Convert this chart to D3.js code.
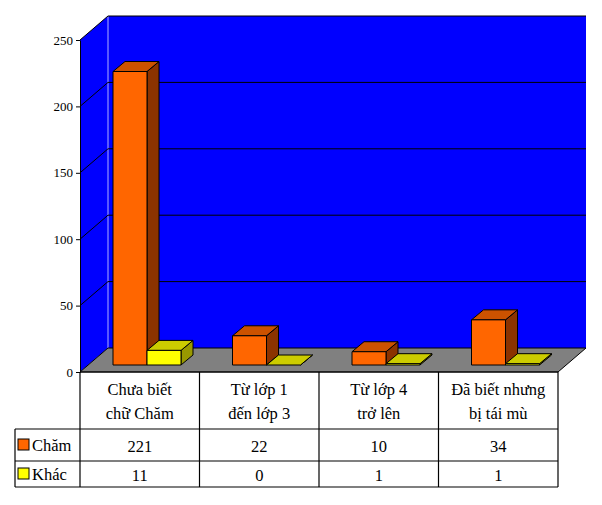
<!DOCTYPE html>
<html><head><meta charset="utf-8">
<script src="https://cdn.jsdelivr.net/npm/d3@7"></script>
<style>body{margin:0;background:#fff}svg{display:block}</style>
</head><body>
<script>
const categories = [["Chưa biết","chữ Chăm"],["Từ lớp 1","đến lớp 3"],["Từ lớp 4","trở lên"],["Đã biết nhưng","bị tái mù"]];
const seriesNames = ["Chăm","Khác"];
const cham = [221,22,10,34];
const khac = [11,0,1,1];
const yTicks = [0,50,100,150,200,250];
const series = [cham, khac];
const colors = [{front:"#FF6600",top:"#CC5200",side:"#8B3300"},{front:"#FFFF00",top:"#CCCC00",side:"#999900"}];

const W=602,H=505;
const svg=d3.select("body").append("svg").attr("width",W).attr("height",H);
const x0=80,x1=558,yBase=372,DX=28,DY=-24;
const y=d3.scaleLinear().domain([0,250]).range([yBase,40]);
const xb=d3.scaleBand().domain(d3.range(4)).range([x0,x1]);
const font="Liberation Serif, Times New Roman, serif";

// back wall
svg.append("rect").attr("x",x0+DX).attr("y",y(250)+DY).attr("width",x1-x0).attr("height",yBase-y(250)).attr("fill","#0000FF");
// left wall
svg.append("path").attr("d",`M${x0},${yBase}L${x0},${y(250)}L${x0+DX},${y(250)+DY}L${x0+DX},${yBase+DY}Z`).attr("fill","#0000FF");
svg.append("line").attr("x1",x0+DX).attr("x2",x0+DX).attr("y1",y(250)+DY).attr("y2",yBase+DY).attr("stroke","#7777ff").attr("stroke-width",1.5);
// gridlines
yTicks.filter(t=>t>0).forEach(t=>{
  const yy=y(t);
  svg.append("path").attr("d",`M${x0},${yy}L${x0+DX},${yy+DY}L${x1+DX},${yy+DY}`).attr("fill","none").attr("stroke","#000").attr("stroke-width",1);
});
// floor
svg.append("path").attr("d",`M${x0},${yBase}L${x0+DX},${yBase+DY}L${x1+DX},${yBase+DY}L${x1},${yBase}Z`).attr("fill","#808080").attr("stroke","#000").attr("stroke-width",1);
// axis
const ax=svg.append("g").attr("transform",`translate(${x0},0)`).call(d3.axisLeft(y).tickValues(yTicks).tickSize(4).tickSizeOuter(0));
ax.select(".domain").attr("stroke","#000");
ax.selectAll("text").attr("font-family",font).attr("font-size",13).attr("fill","#000");

// bars
const bw=34, off=33, bdx=12, bdy=-10, shiftY=-7, shiftX=0;
const sc=(yBase-40)/250;
for(let i=0;i<4;i++){
  series.forEach((s,k)=>{
    const v=s[i];
    const xl=xb(i)+off+k*bw+shiftX, xr=xl+bw;
    const yb=yBase+shiftY, yt=yb-v*sc;
    const c=colors[k];
    const g=svg.append("g").attr("stroke","#000").attr("stroke-width",1).attr("stroke-linejoin","round");
    g.append("path").attr("d",`M${xr},${yb}L${xr+bdx},${yb+bdy}L${xr+bdx},${yt+bdy}L${xr},${yt}Z`).attr("fill",c.side);
    g.append("path").attr("d",`M${xl},${yt}L${xl+bdx},${yt+bdy}L${xr+bdx},${yt+bdy}L${xr},${yt}Z`).attr("fill",c.top);
    if(v>0) g.append("rect").attr("x",xl).attr("y",yt).attr("width",bw).attr("height",yb-yt).attr("fill",c.front);
  });
}

// table
const r0=yBase,r1=429,r2=461,r3=487,lx=15;
const t=svg.append("g").attr("stroke","#000").attr("stroke-width",1.2).attr("fill","none");
t.append("line").attr("x1",x0).attr("x2",x1).attr("y1",r0).attr("y2",r0);
[r1,r2,r3].forEach(r=>t.append("line").attr("x1",lx).attr("x2",x1).attr("y1",r).attr("y2",r));
t.append("line").attr("x1",lx).attr("x2",lx).attr("y1",r1).attr("y2",r3);
for(let i=0;i<=4;i++){const xx=i<4?xb(i):x1;t.append("line").attr("x1",xx).attr("x2",xx).attr("y1",r0).attr("y2",r3);}
const tx=svg.append("g").attr("font-family",font).attr("fill","#000").attr("text-anchor","middle");
categories.forEach((c,i)=>{
  const cx=xb(i)+xb.bandwidth()/2;
  tx.append("text").attr("x",cx).attr("y",395).attr("font-size",16.5).text(c[0]);
  tx.append("text").attr("x",cx).attr("y",419).attr("font-size",16.5).text(c[1]);
  tx.append("text").attr("x",cx).attr("y",452).attr("font-size",16.5).text(cham[i]);
  tx.append("text").attr("x",cx).attr("y",481).attr("font-size",16.5).text(khac[i]);
});
[[r1,r2],[r2,r3]].forEach((r,k)=>{
  const cy=(r[0]+r[1])/2;
  svg.append("rect").attr("x",18).attr("y",cy-6).attr("width",11).attr("height",11).attr("fill",colors[k].front).attr("stroke","#000");
  svg.append("text").attr("x",32).attr("y",cy+6).attr("font-family",font).attr("font-size",16.5).text(seriesNames[k]);
});
</script>
</body></html>
